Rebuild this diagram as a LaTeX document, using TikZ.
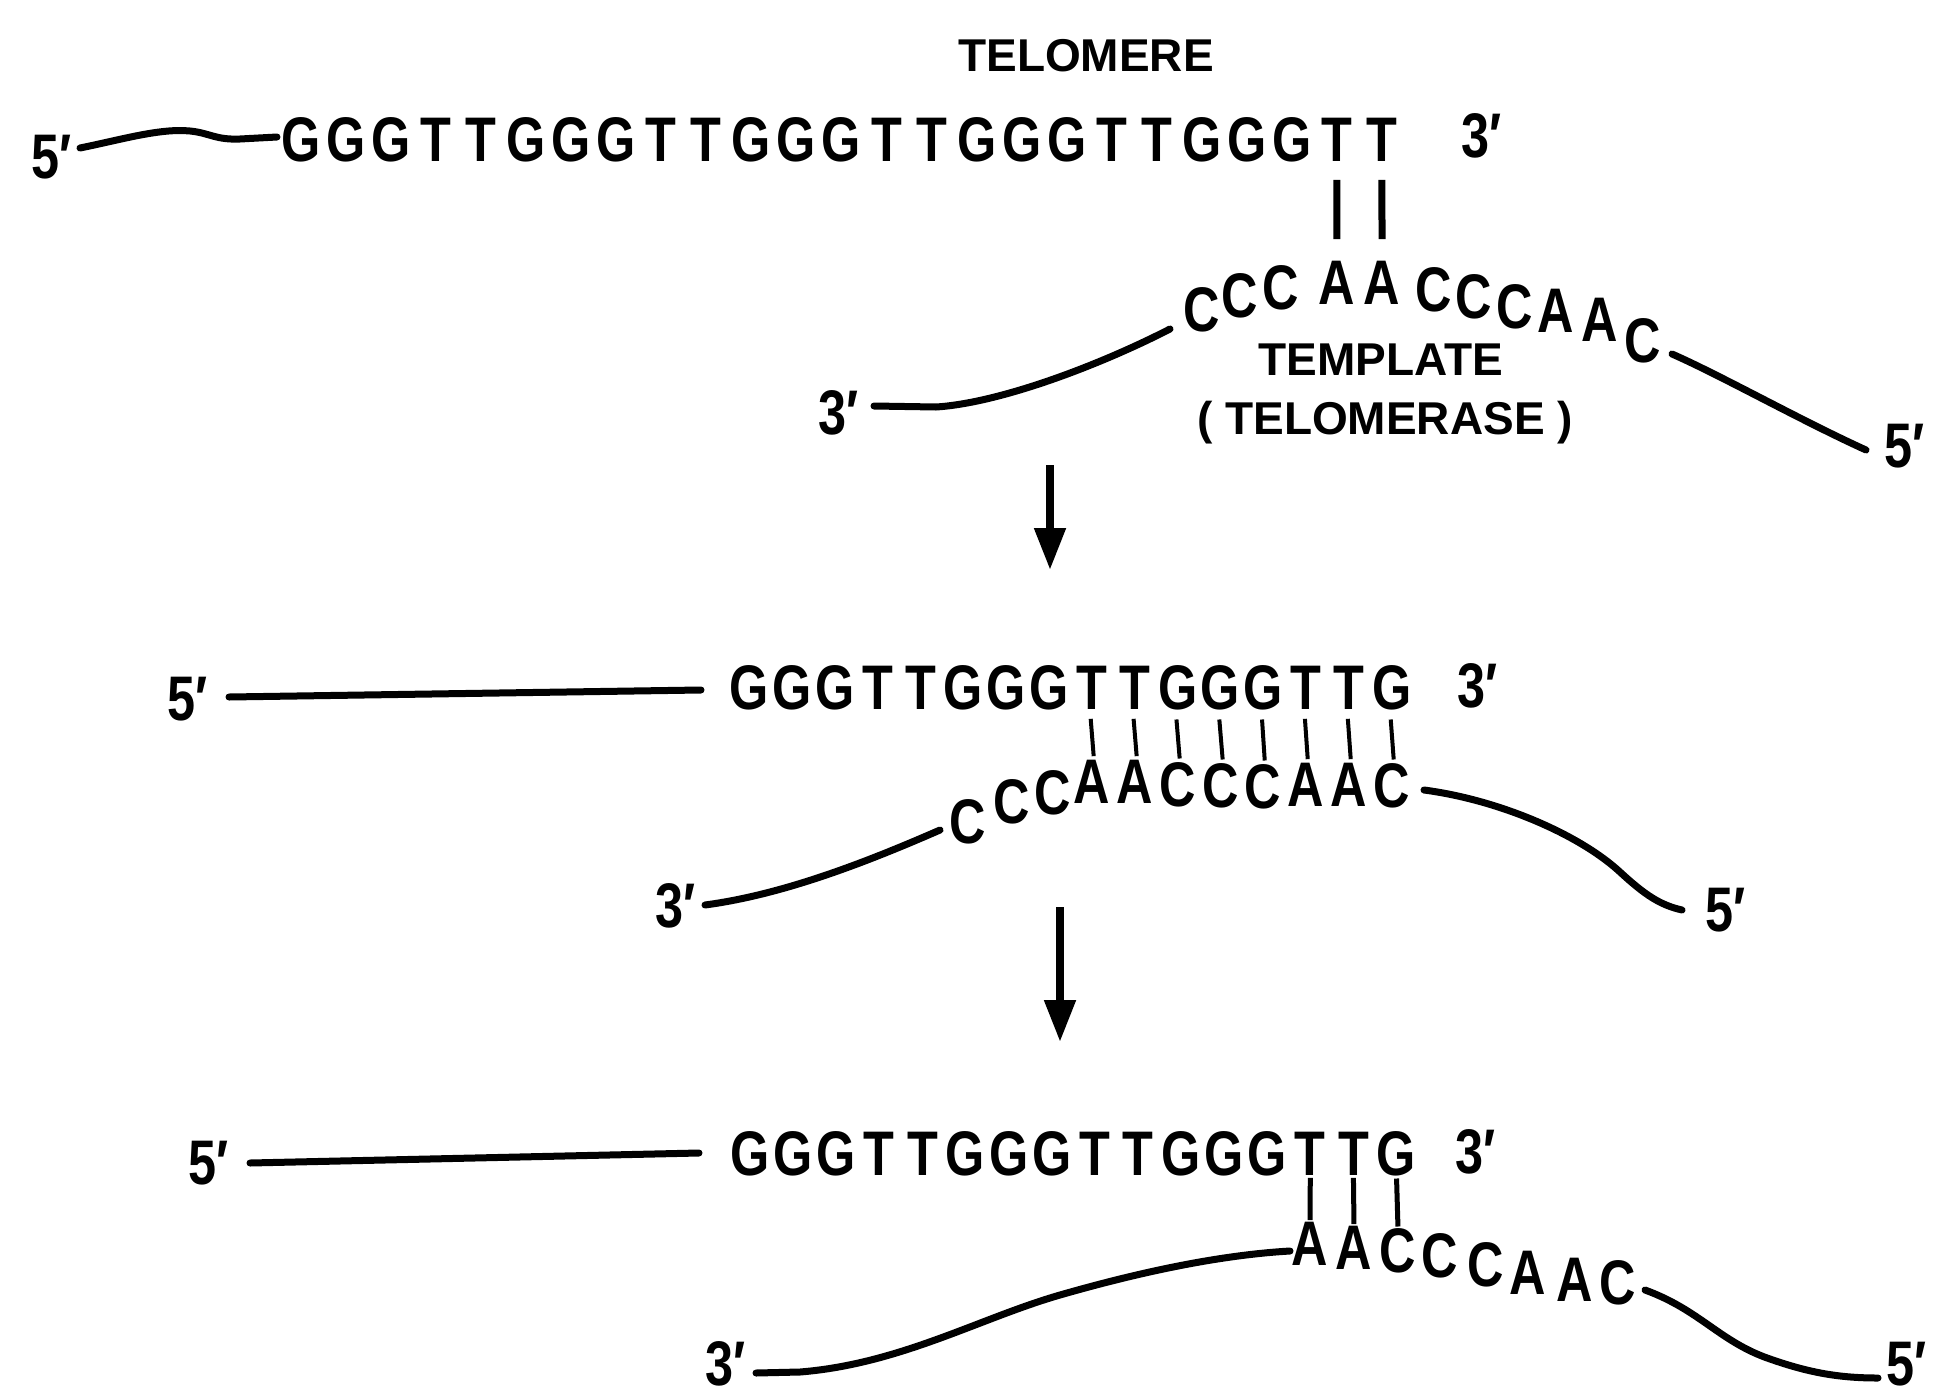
\documentclass[tikz,border=0pt]{standalone}
\usepackage{fontspec}
\setmainfont{Liberation Sans}
\usepackage{graphicx}
\usetikzlibrary{arrows.meta}
\newcommand\nrw[1]{\scalebox{0.8}[1]{#1}}
\begin{document}
\begin{tikzpicture}[x=1pt,y=-1pt,
  nuc/.style={inner sep=0pt, font=\fontsize{63}{70}\selectfont\bfseries},
  lbl/.style={inner sep=0pt, anchor=base, font=\fontsize{46}{50}\selectfont\bfseries},
  endlbl/.style={inner sep=0pt, anchor=base west, font=\fontsize{63}{70}\selectfont\bfseries},
  strand/.style={line width=7pt, line cap=round, line join=round},
  bondthick/.style={line width=7pt},
  bondthin/.style={line width=4pt},
  flow/.style={line width=8pt, -{Triangle[width=30pt,length=42pt]}}
]
\useasboundingbox[fill=white] (0,0) rectangle (1941,1400);

% ---------- step 1 ----------
\node[lbl] (telo) at (1086,71) {TELOMERE};
\node[endlbl] (r1five) at (31,178) {\nrw{5′}};
\node[endlbl] (r1three) at (1461,157) {\nrw{3′}};
\foreach \ch [count=\i from 0] in {G,G,G,T,T,G,G,G,T,T,G,G,G,T,T,G,G,G,T,T,G,G,G,T,T}
  \node[nuc] (r1-\i) at ({301+45.04*\i},140) {\nrw{\ch}};
\coordinate (w1a) at (80,148);
\coordinate (w1b) at (277,137);
\draw[strand] (w1a) .. controls (120,140) and (160,128) .. (190,131)
  .. controls (210,133) and (215,140) .. (240,139) -- (w1b);

\foreach \ch/\x/\y [count=\i from 0] in {C/1202/310,C/1240/296,C/1281/288,A/1337/283,A/1382/283,C/1434/290,C/1474/297,C/1515/307,A/1556/311,A/1600/320,C/1643/341}
  \node[nuc] (t1-\i) at (\x,\y) {\nrw{\ch}};
\foreach \a/\b in {23/3,24/4}
  \draw[bondthick, shorten <=18pt, shorten >=22pt] (r1-\a.south) -- (t1-\b.north);
\node[lbl] (tmpl) at (1381,375) {TEMPLATE};
\node[lbl] (tase) at (1385,434) {( TELOMERASE )};
\node[endlbl] (t1three) at (818,434) {\nrw{3′}};
\node[endlbl] (t1five) at (1884,467) {\nrw{5′}};
\coordinate (u1a) at (874,406);
\coordinate (u1b) at (1170,329);
\draw[strand] (u1a) -- (936,407) .. controls (1000,403) and (1100,365) .. (u1b);
\coordinate (v1a) at (1672,354);
\coordinate (v1b) at (1866,450);
\draw[strand] (v1a) .. controls (1720,375) and (1800,420) .. (v1b);

\coordinate (a1s) at (1050,465);
\coordinate (a1e) at (1050,570);
\draw[flow] (a1s) -- (a1e);

% ---------- step 2 ----------
\node[endlbl] (r2five) at (167,720) {\nrw{5′}};
\node[endlbl] (r2three) at (1457,707) {\nrw{3′}};
\foreach \ch [count=\i from 0] in {G,G,G,T,T,G,G,G,T,T,G,G,G,T,T,G}
  \node[nuc] (r2-\i) at ({749+42.87*\i},688) {\nrw{\ch}};
\coordinate (w2a) at (229,697);
\coordinate (w2b) at (701,690);
\draw[strand] (w2a) -- (w2b);
\foreach \ch/\x/\y [count=\i from 0] in {C/968/822,C/1012/802,C/1053/793,A/1092/782,A/1135/782,C/1178/785,C/1221/786,C/1263/787,A/1306/785,A/1349/785,C/1392/786}
  \node[nuc] (t2-\i) at (\x,\y) {\nrw{\ch}};
\foreach \a/\b in {8/3,9/4,10/5,11/6,12/7,13/8,14/9,15/10}
  \draw[bondthin, shorten <=9pt, shorten >=4pt] ([xshift=-2pt]r2-\a.south) -- ([xshift=2pt]t2-\b.north);
\node[endlbl] (t2three) at (655,927) {\nrw{3′}};
\node[endlbl] (t2five) at (1705,931) {\nrw{5′}};
\coordinate (u2a) at (705,905);
\coordinate (u2b) at (940,830);
\draw[strand] (u2a) .. controls (780,895) and (860,865) .. (u2b);
\coordinate (v2a) at (1424,790);
\coordinate (v2b) at (1682,910);
\draw[strand] (v2a) .. controls (1500,800) and (1580,835) .. (1620,872)
  .. controls (1645,895) and (1660,905) .. (v2b);

\coordinate (a2s) at (1060,907);
\coordinate (a2e) at (1060,1042);
\draw[flow] (a2s) -- (a2e);

% ---------- step 3 ----------
\node[endlbl] (r3five) at (188,1184) {\nrw{5′}};
\node[endlbl] (r3three) at (1455,1173) {\nrw{3′}};
\foreach \ch [count=\i from 0] in {G,G,G,T,T,G,G,G,T,T,G,G,G,T,T,G}
  \node[nuc] (r3-\i) at ({750+43.1*\i},1154) {\nrw{\ch}};
\coordinate (w3a) at (250,1163);
\coordinate (w3b) at (699,1153);
\draw[strand] (w3a) -- (w3b);
\foreach \ch/\x/\y [count=\i from 0] in {A/1310/1244,A/1354/1248,C/1398/1251,C/1440/1256,C/1486/1265,A/1528/1273,A/1575/1280,C/1618/1283}
  \node[nuc] (t3-\i) at (\x,\y) {\nrw{\ch}};
\foreach \a/\b in {13/0,14/1,15/2}
  \draw[bondthin, line width=5pt, shorten <=2pt, shorten >=2pt] (r3-\a.south) -- (t3-\b.north);
\node[endlbl] (t3three) at (705,1385) {\nrw{3′}};
\node[endlbl] (t3five) at (1886,1385) {\nrw{5′}};
\coordinate (u3a) at (756,1373);
\coordinate (u3b) at (1290,1251);
\draw[strand] (u3a) -- (800,1372) .. controls (900,1364) and (980,1318) .. (1060,1295)
  .. controls (1140,1272) and (1220,1255) .. (u3b);
\coordinate (v3a) at (1645,1290);
\coordinate (v3b) at (1878,1378);
\draw[strand] (v3a) .. controls (1700,1310) and (1720,1342) .. (1770,1359)
  .. controls (1810,1373) and (1840,1378) .. (v3b);
\end{tikzpicture}
\end{document}
